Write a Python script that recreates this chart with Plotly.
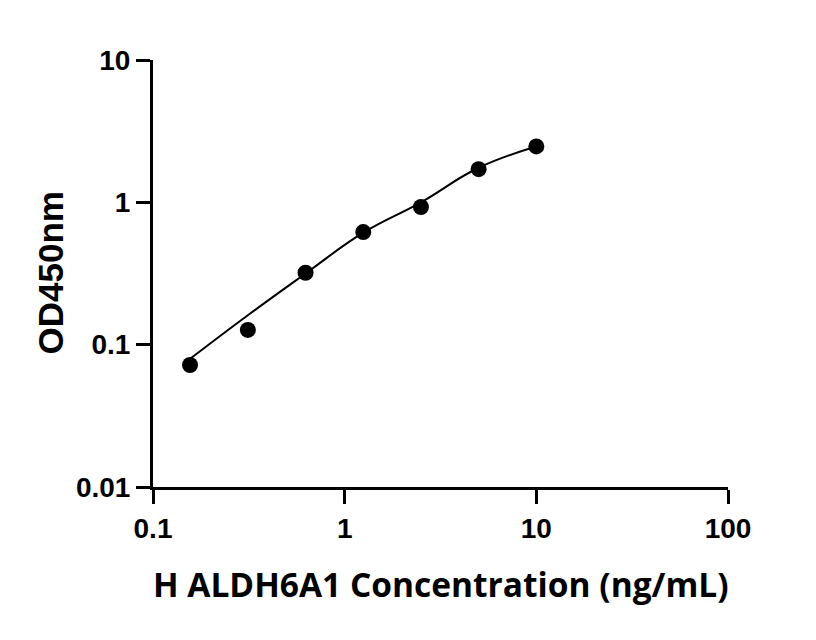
import plotly.graph_objects as go

# Standard concentrations (ng/mL) and measured OD450
conc = [0.156, 0.3125, 0.625, 1.25, 2.5, 5, 10]
od = [0.072, 0.127, 0.320, 0.618, 0.927, 1.71, 2.47]

# Fitted curve values at the same concentrations
curve_x = [0.156, 0.3125, 0.625, 1.25, 2.5, 5, 10]
curve_y = [0.0795, 0.161, 0.316, 0.612, 1.0, 1.75, 2.465]

x_tickvals = [0.1, 1, 10, 100]
x_ticktext = ["0.1", "1", "10", "100"]
y_tickvals = [0.01, 0.1, 1, 10]
y_ticktext = ["0.01", "0.1", "1", "10"]

x_title = "H ALDH6A1 Concentration (ng/mL)"
y_title = "OD450nm"

fig = go.Figure()
fig.add_trace(go.Scatter(
    x=curve_x, y=curve_y, mode="lines",
    line=dict(color="black", width=2, shape="spline", smoothing=1.2),
    showlegend=False, hoverinfo="skip"))
fig.add_trace(go.Scatter(
    x=conc, y=od, mode="markers",
    marker=dict(color="black", size=16, symbol="circle"),
    showlegend=False))

tickfont = dict(family="Liberation Sans", size=28, color="black", weight="bold")

fig.update_layout(
    width=800, height=624,
    margin=dict(l=145, r=80, t=52, b=145),
    paper_bgcolor="white", plot_bgcolor="white",
    xaxis=dict(type="log", range=[-1, 2], tickvals=x_tickvals, ticktext=x_ticktext,
               showline=True, linecolor="black", linewidth=3, ticks="outside",
               ticklen=14, tickwidth=3, tickcolor="black", showgrid=False,
               zeroline=False, tickfont=tickfont, automargin=False),
    yaxis=dict(type="log", range=[-2, 1], tickvals=y_tickvals, ticktext=y_ticktext,
               showline=True, linecolor="black", linewidth=3, ticks="outside",
               ticklen=14, tickwidth=3, tickcolor="black", showgrid=False,
               zeroline=False, tickfont=tickfont, automargin=False),
    annotations=[
        dict(text=x_title, xref="paper", yref="paper", x=0.5, y=0,
             xanchor="center", yanchor="middle", yshift=-97, showarrow=False,
             font=dict(family="Open Sans", size=33.5, color="black", weight="bold")),
        dict(text=y_title, xref="paper", yref="paper", x=0, y=0.5,
             xanchor="center", yanchor="middle", xshift=-103, showarrow=False, textangle=-90,
             font=dict(family="Liberation Sans", size=35, color="black", weight="bold")),
    ],
)

fig.write_html("out.html")
